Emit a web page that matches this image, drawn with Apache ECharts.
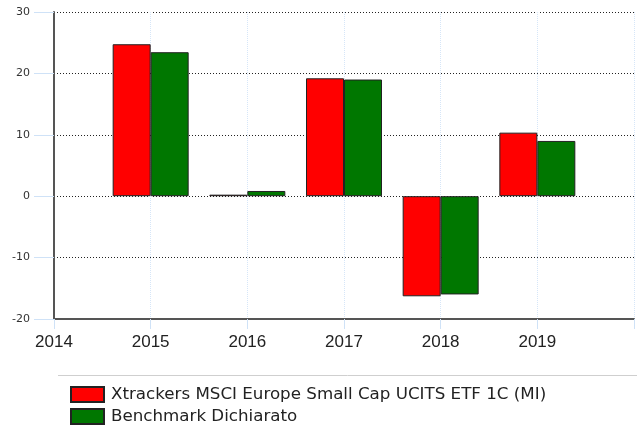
<!DOCTYPE html>
<html>
<head>
<meta charset="utf-8">
<script src="https://cdn.jsdelivr.net/npm/echarts@6/dist/echarts.min.js"></script>
<style>
  html, body { margin: 0; padding: 0; background: #fff; }
  #chart { width: 637px; height: 430px; }
</style>
</head>
<body>
<div id="chart"></div>
<script>
var years = [2015, 2016, 2017, 2018, 2019];
var fundValues = [24.75, 0.25, 19.2, -16.3, 10.35];
var benchValues = [23.45, 0.85, 19.0, -16.0, 9.0];
var fundName = 'Xtrackers MSCI Europe Small Cap UCITS ETF 1C (MI)';
var benchName = 'Benchmark Dichiarato';

function pairs(vals) {
    return years.map(function (y, i) { return [y, vals[i]]; });
}

var chart = echarts.init(document.getElementById('chart'));
var option = {
    animation: false,
    textStyle: { fontFamily: 'DejaVu Sans' },
    grid: { left: 54, right: 1, top: 12, bottom: 111, containLabel: false },
    legend: {
        orient: 'vertical',
        left: 70,
        top: 386,
        width: 560,
        height: 80,
        padding: 0,
        itemWidth: 33,
        itemHeight: 15,
        itemGap: 5,
        icon: 'rect',
        textStyle: { fontSize: 16.7, color: '#222', fontFamily: 'DejaVu Sans', padding: [0, 0, 0, 2] },
        data: [fundName, benchName]
    },
    graphic: [{
        type: 'line',
        shape: { x1: 58, y1: 375.5, x2: 637, y2: 375.5 },
        style: { stroke: '#cfcfcf', lineWidth: 1 }
    }],
    xAxis: {
        type: 'value',
        min: 2014,
        max: 2020,
        interval: 1,
        axisLine: { show: true, onZero: false, lineStyle: { color: '#555', width: 2 } },
        axisTick: { show: true, length: 10, lineStyle: { color: '#cfe2f7' } },
        axisLabel: {
            fontSize: 17, color: '#222', margin: 15, fontFamily: 'Liberation Sans',
            formatter: function (v) { return v === 2020 ? '' : String(v); }
        },
        splitLine: { show: true, lineStyle: { color: '#d6e6f8', type: 'dotted' } }
    },
    yAxis: {
        type: 'value',
        min: -20,
        max: 30,
        interval: 10,
        axisLine: { show: true, onZero: false, lineStyle: { color: '#555', width: 2 } },
        axisTick: { show: true, length: 20, lineStyle: { color: '#cfe2f7' } },
        axisLabel: { fontSize: 11, color: '#333', margin: 24 },
        splitLine: { show: true, lineStyle: { color: '#222', type: [1, 2], width: 1 } }
    },
    series: [{
        name: fundName,
        type: 'bar',
        barWidth: 38,
        barGap: '0%',
        itemStyle: { color: '#ff0000', borderColor: '#222', borderWidth: 1 },
        data: pairs(fundValues)
    }, {
        name: benchName,
        type: 'bar',
        barWidth: 38,
        barGap: '0%',
        itemStyle: { color: '#007700', borderColor: '#222', borderWidth: 1 },
        data: pairs(benchValues)
    }]
};
chart.setOption(option);
</script>
</body>
</html>
